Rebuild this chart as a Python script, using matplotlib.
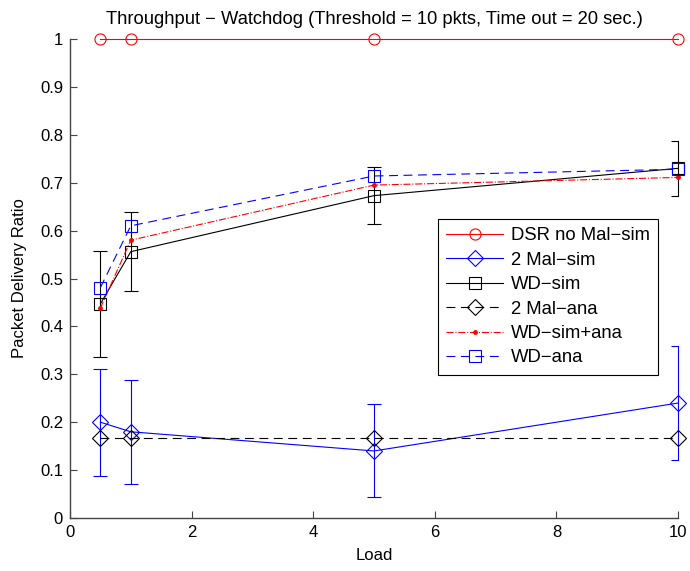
import numpy as np
import matplotlib
matplotlib.use("Agg")
import matplotlib.pyplot as plt

plt.rcParams['font.family'] = ['Liberation Sans', 'DejaVu Sans']

# Data
load = [0.5, 1, 5, 10]
dsr_sim = [1, 1, 1, 1]
mal_sim = [0.20, 0.18, 0.14, 0.24]
mal_sim_err = [0.112, 0.108, 0.097, 0.119]
wd_sim = [0.447, 0.556, 0.673, 0.730]
wd_sim_err = [0.110, 0.082, 0.060, 0.058]
mal_ana = [0.1667, 0.1667, 0.1667, 0.1667]
wd_simana = [0.438, 0.580, 0.695, 0.711]
wd_ana = [0.481, 0.610, 0.714, 0.728]

fig = plt.figure(figsize=(6.9, 5.71), dpi=100)
ax = fig.add_axes([0.1014, 0.0928, 0.8812, 0.8389])

lw = 0.8

def err(y, e, c):
    # vertical bars stay visible on the edge, caps get clipped like matlab
    _, caps, bars = ax.errorbar(load, y, yerr=e, fmt='none', ecolor=c, elinewidth=lw, capsize=5, capthick=lw)
    for b in bars:
        b.set_clip_on(False)

ax.plot(load, dsr_sim, '-o', color='red', lw=lw, ms=8, mfc='none', mew=lw, clip_on=False, label='DSR no Mal\u2212sim')
err(mal_sim, mal_sim_err, 'blue')
ax.plot(load, mal_sim, '-D', color='blue', lw=lw, ms=8, mfc='none', mew=lw, clip_on=False, label='2 Mal\u2212sim')
err(wd_sim, wd_sim_err, 'black')
ax.plot(load, wd_sim, '-s', color='black', lw=lw, ms=8, mfc='none', mew=lw, clip_on=False, label='WD\u2212sim')
ax.plot(load, mal_ana, '--D', color='black', lw=lw, ms=8, mfc='none', mew=lw, dashes=(8, 5), clip_on=False, label='2 Mal\u2212ana')
ax.plot(load, wd_simana, '-.', marker='.', color='red', lw=lw, ms=5, clip_on=False, label='WD\u2212sim+ana')
ax.plot(load, wd_ana, '--s', color='blue', lw=lw, ms=8, mfc='none', mew=lw, dashes=(8, 5), clip_on=False, label='WD\u2212ana')

ax.set_xlim(0, 10)
ax.set_ylim(0, 1)
ax.set_xticks([0, 2, 4, 6, 8, 10])
ax.set_yticks(np.arange(0, 1.01, 0.1))
ax.set_yticklabels(['0', '0.1', '0.2', '0.3', '0.4', '0.5', '0.6', '0.7', '0.8', '0.9', '1'])
for s in ['top', 'right']:
    ax.spines[s].set_visible(False)
for s in ['left', 'bottom']:
    ax.spines[s].set_color('#444444')
    ax.spines[s].set_linewidth(1.0)
ax.tick_params(direction='in', labelsize=12, length=5, color='#444444', pad=5)
ax.set_xlabel('Load', fontsize=12, labelpad=6)
ax.set_ylabel('Packet Delivery Ratio', fontsize=12, labelpad=9)
ax.set_title('Throughput \u2212 Watchdog (Threshold = 10 pkts, Time out = 20 sec.)', fontsize=13.2, pad=11)

leg = ax.legend(loc='upper left', bbox_to_anchor=(0.605, 0.624), fontsize=13.3, fancybox=False,
                edgecolor='black', framealpha=1, handlelength=3.1, borderpad=0.45, labelspacing=0.4,
                handletextpad=0.4, borderaxespad=0)
leg.get_frame().set_linewidth(0.8)

fig.savefig('out.png', dpi=100)
